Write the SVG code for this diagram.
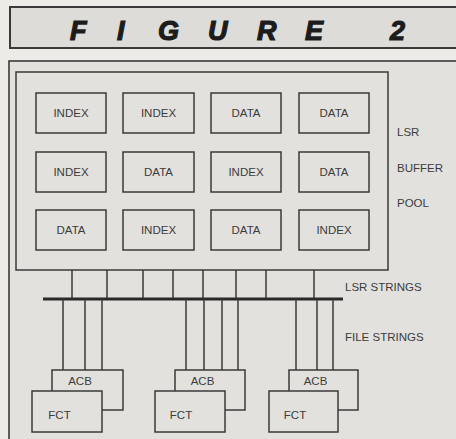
<svg xmlns="http://www.w3.org/2000/svg" width="456" height="439" viewBox="0 0 456 439">
<style>
.bg{fill:#ecebe7}
.frame{fill:#e2e1dd;stroke:#3a3a3a;stroke-width:1.6}
.box{fill:#e2e1dd;stroke:#3a3a3a;stroke-width:1.5}
.ln{stroke:#3a3a3a;stroke-width:1.5;fill:none}
.bus{stroke:#2a2a2a;stroke-width:3}
.t{font-family:"Liberation Sans",Arial,sans-serif;font-size:11.5px;fill:#3c3c3c}
.c{text-anchor:middle}
.title{font-family:"Liberation Sans",Arial,sans-serif;font-size:27px;font-weight:bold;font-style:italic;fill:#1c1c1c;stroke:#1c1c1c;stroke-width:1.2}
</style>
<rect class="bg" x="0" y="0" width="456" height="439"/>
<g id="title">
<rect x="10" y="7" width="452" height="41" fill="#dddcd8" stroke="#3a3a3a" stroke-width="2"/>
<text class="title" x="70 117 158 208 257 305 340 390" y="40">FIGURE 2</text>
</g>
<g id="frame"><rect class="frame" x="9" y="61" width="455" height="390"/></g>
<g id="pool">
<rect class="box" x="16" y="72" width="372" height="198"/>
<text class="t" x="397" y="136">LSR</text>
<text class="t" x="397" y="172">BUFFER</text>
<text class="t" x="397" y="207">POOL</text>
</g>
<g id="r1c1"><rect class="box" x="36" y="93" width="70" height="40"/><text class="t c" x="71" y="117">INDEX</text></g>
<g id="r1c2"><rect class="box" x="123" y="93" width="71" height="40"/><text class="t c" x="158.5" y="117">INDEX</text></g>
<g id="r1c3"><rect class="box" x="211" y="93" width="70" height="40"/><text class="t c" x="246" y="117">DATA</text></g>
<g id="r1c4"><rect class="box" x="299" y="93" width="70" height="40"/><text class="t c" x="334" y="117">DATA</text></g>
<g id="r2c1"><rect class="box" x="36" y="152" width="70" height="40"/><text class="t c" x="71" y="176">INDEX</text></g>
<g id="r2c2"><rect class="box" x="123" y="152" width="71" height="40"/><text class="t c" x="158.5" y="176">DATA</text></g>
<g id="r2c3"><rect class="box" x="211" y="152" width="70" height="40"/><text class="t c" x="246" y="176">INDEX</text></g>
<g id="r2c4"><rect class="box" x="299" y="152" width="70" height="40"/><text class="t c" x="334" y="176">DATA</text></g>
<g id="r3c1"><rect class="box" x="36" y="210" width="70" height="40"/><text class="t c" x="71" y="234">DATA</text></g>
<g id="r3c2"><rect class="box" x="123" y="210" width="71" height="40"/><text class="t c" x="158.5" y="234">INDEX</text></g>
<g id="r3c3"><rect class="box" x="211" y="210" width="70" height="40"/><text class="t c" x="246" y="234">DATA</text></g>
<g id="r3c4"><rect class="box" x="299" y="210" width="70" height="40"/><text class="t c" x="334" y="234">INDEX</text></g>
<g id="connectors">
<path class="ln" d="M72 270V299M107 270V299M143 270V299M173 270V299M203 270V299M236 270V299M266 270V299M314 270V299"/>
<line class="bus" x1="43" y1="299" x2="343" y2="299"/>
<path class="ln" d="M63 299V370M85 299V370M102 299V370M186 299V370M204 299V370M222 299V370M238 299V370M296 299V370M317 299V370M333 299V370"/>
</g>
<g id="labels">
<text class="t" x="345" y="291">LSR STRINGS</text>
<text class="t" x="345" y="341">FILE STRINGS</text>
</g>
<g id="acb1"><rect class="box" x="52" y="370" width="71" height="40"/><text class="t c" x="80" y="385">ACB</text></g>
<g id="fct1"><rect class="box" x="32" y="391" width="70" height="41"/><text class="t c" x="59.5" y="419">FCT</text></g>
<g id="acb2"><rect class="box" x="175" y="370" width="70" height="40"/><text class="t c" x="202.5" y="385">ACB</text></g>
<g id="fct2"><rect class="box" x="155" y="391" width="70" height="41"/><text class="t c" x="181" y="419">FCT</text></g>
<g id="acb3"><rect class="box" x="289" y="370" width="69" height="40"/><text class="t c" x="315.5" y="385">ACB</text></g>
<g id="fct3"><rect class="box" x="269" y="391" width="69" height="41"/><text class="t c" x="295" y="419">FCT</text></g>
</svg>
